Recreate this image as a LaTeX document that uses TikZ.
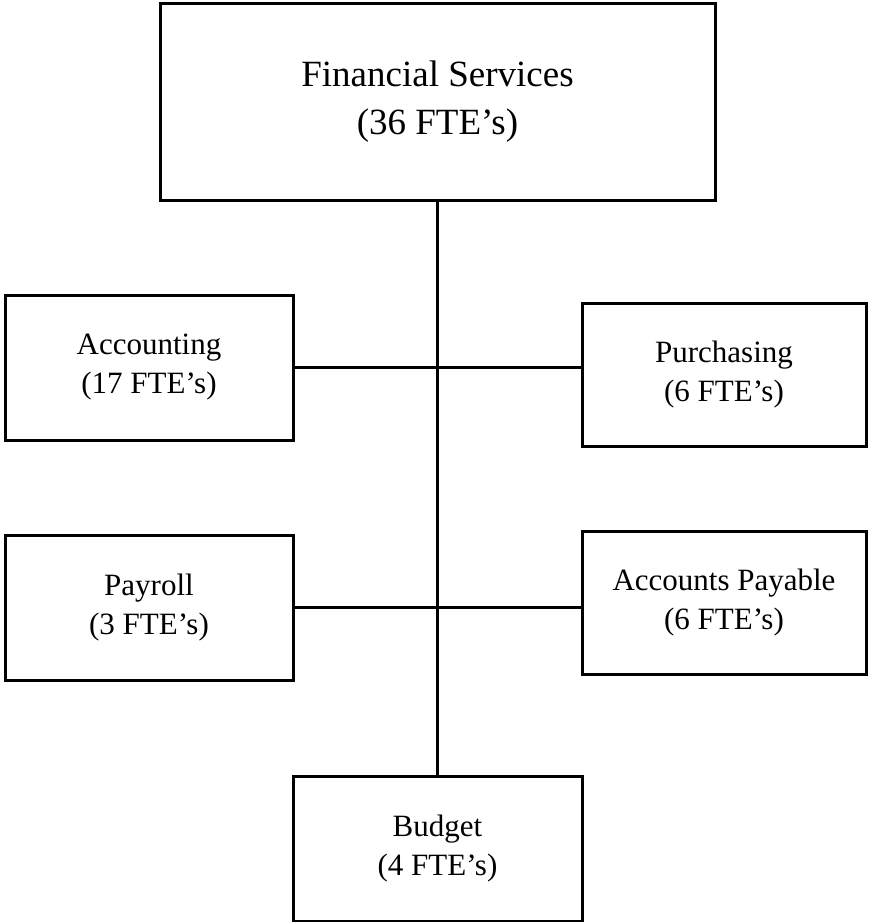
\documentclass[tikz,border=0pt]{standalone}
\usepackage{fontspec}
\setmainfont{Liberation Serif}
\usepackage{tikz}

\begin{document}
\begin{tikzpicture}[x=1pt,y=-1pt,
  unitbox/.style={draw, line width=3pt, align=center, inner sep=0pt, font=\fontsize{31}{39}\selectfont},
  link/.style={line width=2.5pt}]
\useasboundingbox (0,0) rectangle (871,922);
\node[unitbox, minimum width=555pt, minimum height=197pt, font=\fontsize{37}{48}\selectfont] (fs) at (437.5,101.5) {Financial Services\\(36 FTE's)};
\node[unitbox, minimum width=288pt, minimum height=145pt] (acc) at (149,367.5) {Accounting\\(17 FTE's)};
\node[unitbox, minimum width=284pt, minimum height=143pt] (pur) at (724,374.5) {Purchasing\\(6 FTE's)};
\node[unitbox, minimum width=288pt, minimum height=145pt] (pay) at (149,607.5) {Payroll\\(3 FTE's)};
\node[unitbox, minimum width=284pt, minimum height=143pt] (ap) at (724,602.5) {Accounts Payable\\(6 FTE's)};
\node[unitbox, minimum width=289pt, minimum height=145pt] (bud) at (437.5,848.5) {Budget\\(4 FTE's)};
\draw[link] (fs.south) -- (bud.north);
\draw[link] (acc.east) -- (acc.east -| pur.west);
\draw[link] (pay.east) -- (pay.east -| ap.west);
\end{tikzpicture}
\end{document}
